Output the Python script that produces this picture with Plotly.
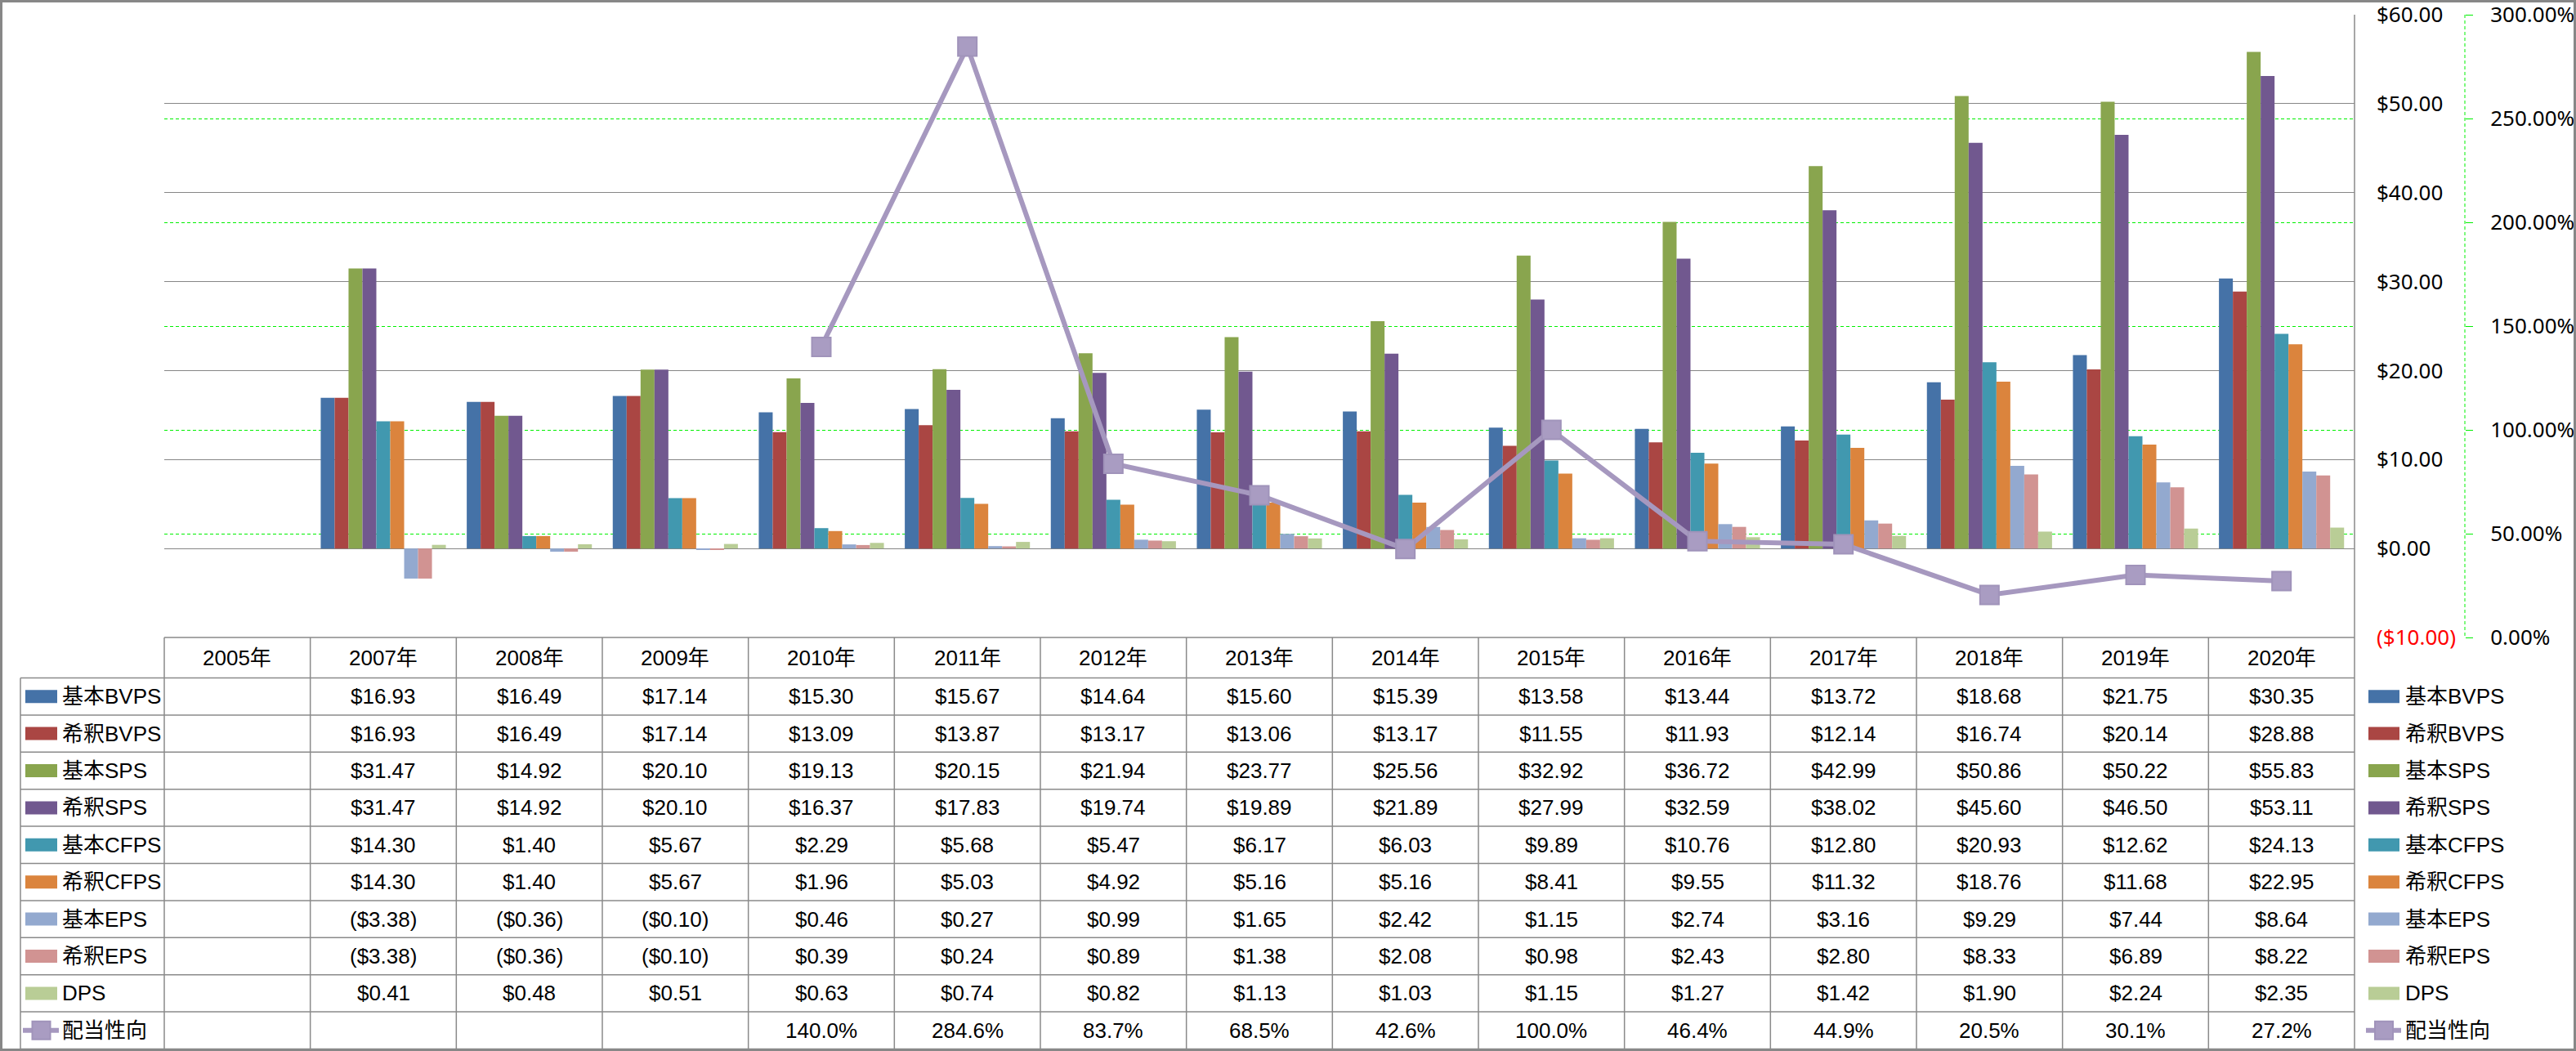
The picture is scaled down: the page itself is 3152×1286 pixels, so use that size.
import plotly.graph_objects as go

# ---------------- data ----------------
years = ["2005年", "2007年", "2008年", "2009年", "2010年", "2011年", "2012年", "2013年",
         "2014年", "2015年", "2016年", "2017年", "2018年", "2019年", "2020年"]

basic_bvps = [None, 16.93, 16.49, 17.14, 15.30, 15.67, 14.64, 15.60, 15.39, 13.58, 13.44, 13.72, 18.68, 21.75, 30.35]
dil_bvps   = [None, 16.93, 16.49, 17.14, 13.09, 13.87, 13.17, 13.06, 13.17, 11.55, 11.93, 12.14, 16.74, 20.14, 28.88]
basic_sps  = [None, 31.47, 14.92, 20.10, 19.13, 20.15, 21.94, 23.77, 25.56, 32.92, 36.72, 42.99, 50.86, 50.22, 55.83]
dil_sps    = [None, 31.47, 14.92, 20.10, 16.37, 17.83, 19.74, 19.89, 21.89, 27.99, 32.59, 38.02, 45.60, 46.50, 53.11]
basic_cfps = [None, 14.30, 1.40, 5.67, 2.29, 5.68, 5.47, 6.17, 6.03, 9.89, 10.76, 12.80, 20.93, 12.62, 24.13]
dil_cfps   = [None, 14.30, 1.40, 5.67, 1.96, 5.03, 4.92, 5.16, 5.16, 8.41, 9.55, 11.32, 18.76, 11.68, 22.95]
basic_eps  = [None, -3.38, -0.36, -0.10, 0.46, 0.27, 0.99, 1.65, 2.42, 1.15, 2.74, 3.16, 9.29, 7.44, 8.64]
dil_eps    = [None, -3.38, -0.36, -0.10, 0.39, 0.24, 0.89, 1.38, 2.08, 0.98, 2.43, 2.80, 8.33, 6.89, 8.22]
dps        = [None, 0.41, 0.48, 0.51, 0.63, 0.74, 0.82, 1.13, 1.03, 1.15, 1.27, 1.42, 1.90, 2.24, 2.35]
payout     = [None, None, None, None, 140.0, 284.6, 83.7, 68.5, 42.6, 100.0, 46.4, 44.9, 20.5, 30.1, 27.2]

bar_names = ["基本BVPS", "希釈BVPS", "基本SPS", "希釈SPS", "基本CFPS", "希釈CFPS", "基本EPS", "希釈EPS", "DPS"]
bar_series = [basic_bvps, dil_bvps, basic_sps, dil_sps, basic_cfps, dil_cfps, basic_eps, dil_eps, dps]
bar_colors = ["#4572A7", "#AA4643", "#89A54E", "#71588F", "#4198AF", "#DB843D", "#93A9CF", "#D19392", "#B9CD96"]
line_name = "配当性向"
line_color = "#A698BF"

usd_ticks = [-10, 0, 10, 20, 30, 40, 50, 60]
pct_ticks = [0, 50, 100, 150, 200, 250, 300]


def fmt_money(v):
    if v is None:
        return ""
    return f"(${-v:.2f})" if v < 0 else f"${v:.2f}"


def fmt_pct(v):
    return "" if v is None else f"{v:.1f}%"


# ---------------- geometry helpers (pixels -> paper) ----------------
W, H = 3152, 1286
L, R, T, B = 201, 20, 18, 506
PW, PH = W - L - R, H - T - B
PLOT_RIGHT = 2881
Y2_X = 3016


def px(x):
    return (x - L) / PW


def py(y):
    return (H - B - y) / PH


TXT_FONT = "Liberation Sans, Noto Sans CJK JP, sans-serif"
AX_FONT = "Noto Sans, sans-serif"
GRID = "#868686"
TBL = "#8A8A8A"
FS = 26

fig = go.Figure()

for name, vals, col in zip(bar_names, bar_series, bar_colors):
    fig.add_trace(go.Bar(x=years, y=vals, name=name, marker=dict(color=col, line=dict(width=0)),
                         hoverinfo="skip"))

fig.add_trace(go.Scatter(x=years, y=payout, name=line_name, yaxis="y2", mode="lines+markers",
                         line=dict(color=line_color, width=6),
                         marker=dict(symbol="square", size=23, color="#A99CC2",
                                     line=dict(color="#A093BA", width=2)),
                         hoverinfo="skip"))

usd_text = []
for v in usd_ticks:
    s = fmt_money(v)
    usd_text.append(f"<span style='color:#FF0000'>{s}</span>" if v < 0 else s)

fig.update_layout(
    width=W, height=H,
    margin=dict(l=L, r=R, t=T, b=B, autoexpand=False),
    paper_bgcolor="white", plot_bgcolor="white",
    barmode="group", bargap=0.143, bargroupgap=0,
    showlegend=False,
    font=dict(family=TXT_FONT, size=FS, color="black"),
    xaxis=dict(type="category", domain=[0, px(PLOT_RIGHT)], range=[-0.5, len(years) - 0.5],
               showticklabels=False, showgrid=False, zeroline=False, showline=False, ticks="",
               automargin=False),
    yaxis=dict(range=[-10, 60], side="right", tickvals=usd_ticks, ticktext=usd_text,
               showgrid=True, gridcolor=GRID, gridwidth=1, zeroline=True, zerolinecolor=GRID,
               zerolinewidth=1, showline=False, ticks="", ticklabelstandoff=26,
               ticklabeloverflow="allow", automargin=False,
               tickfont=dict(family=AX_FONT, size=26, color="black")),
    yaxis2=dict(range=[0, 300], overlaying="y", side="right", anchor="free", position=px(Y2_X),
                tickvals=pct_ticks, ticktext=[f"{v:.2f}%" for v in pct_ticks],
                showgrid=True, gridcolor="#00F000", gridwidth=1, griddash="4px,3px",
                zeroline=False, showline=False, ticks="outside", ticklen=9, tickcolor="#00F000",
                tickwidth=1, ticklabelstandoff=16, ticklabeloverflow="allow", automargin=False,
                tickfont=dict(family=AX_FONT, size=26, color="black")),
)

shapes = []
annotations = []


def pline(x0, y0, x1, y1, color=TBL, width=1, dash=None):
    d = dict(type="line", xref="paper", yref="paper", x0=px(x0), y0=py(y0), x1=px(x1), y1=py(y1),
             line=dict(color=color, width=width))
    if dash:
        d["line"]["dash"] = dash
    shapes.append(d)


# outer frame
shapes.append(dict(type="rect", xref="paper", yref="paper", x0=px(1.5), y0=py(1.5), x1=px(W - 1.5),
                   y1=py(H - 1.5), line=dict(color="#878787", width=3)))

# secondary axis line (dashed green)
pline(Y2_X, T, Y2_X, 780, color="#00F000", width=1, dash="4px,3px")

# plot right border + table right border
pline(PLOT_RIGHT, T, PLOT_RIGHT, 1283.5, color=TBL, width=1.5)

# table
HEAD_TOP, ROW0, ROW_H = 780, 829.5, 45.4
n_rows = len(bar_names) + 1
pline(L, HEAD_TOP, PLOT_RIGHT, HEAD_TOP, width=1.5)
for i in range(n_rows + 1):
    yy = ROW0 + i * ROW_H
    pline(25, yy, PLOT_RIGHT, yy, width=1.5)
pline(25, ROW0, 25, ROW0 + n_rows * ROW_H, width=1.5)
pline(L, HEAD_TOP, L, ROW0 + n_rows * ROW_H, width=1.5)
for k in range(len(years) - 1):
    shapes.append(dict(type="line", xref="x", yref="paper", x0=k + 0.5, x1=k + 0.5,
                       y0=py(HEAD_TOP), y1=py(ROW0 + n_rows * ROW_H), line=dict(color=TBL, width=1.5)))

# header
for yr in years:
    annotations.append(dict(xref="x", yref="paper", x=yr, y=py((HEAD_TOP + ROW0) / 2), text=yr,
                            showarrow=False, xanchor="center", yanchor="middle",
                            font=dict(family=TXT_FONT, size=FS, color="black")))

row_texts = [[fmt_money(v) for v in s] for s in bar_series] + [[fmt_pct(v) for v in payout]]
row_names = bar_names + [line_name]
row_colors = bar_colors + [line_color]

for i, (nm, texts, col) in enumerate(zip(row_names, row_texts, row_colors)):
    cy = ROW0 + i * ROW_H + ROW_H / 2
    for yr, t in zip(years, texts):
        if t:
            annotations.append(dict(xref="x", yref="paper", x=yr, y=py(cy), text=t, showarrow=False,
                                    xanchor="center", yanchor="middle",
                                    font=dict(family=TXT_FONT, size=FS, color="black")))
    # left (row label) and right legend
    for sx0, sx1, tx in [(31, 70, 74), (2898, 2936, 2941)]:
        if i < len(bar_names):
            shapes.append(dict(type="rect", xref="paper", yref="paper", x0=px(sx0), x1=px(sx1),
                               y0=py(cy - 8), y1=py(cy + 8), fillcolor=col, line=dict(width=0)))
        else:
            pline(sx0 - 3, cy, sx1 + 2, cy, color=col, width=6)
            mc = (sx0 + sx1) / 2
            shapes.append(dict(type="rect", xref="paper", yref="paper", x0=px(mc - 11), x1=px(mc + 11),
                               y0=py(cy - 11), y1=py(cy + 11), fillcolor="#A99CC2",
                               line=dict(color="#A093BA", width=2)))
        annotations.append(dict(xref="paper", yref="paper", x=px(tx), y=py(cy), text=nm, showarrow=False,
                                xanchor="left", yanchor="middle",
                                font=dict(family=TXT_FONT, size=FS, color="black")))

fig.update_layout(shapes=shapes, annotations=annotations)
fig.write_html("out.html")
